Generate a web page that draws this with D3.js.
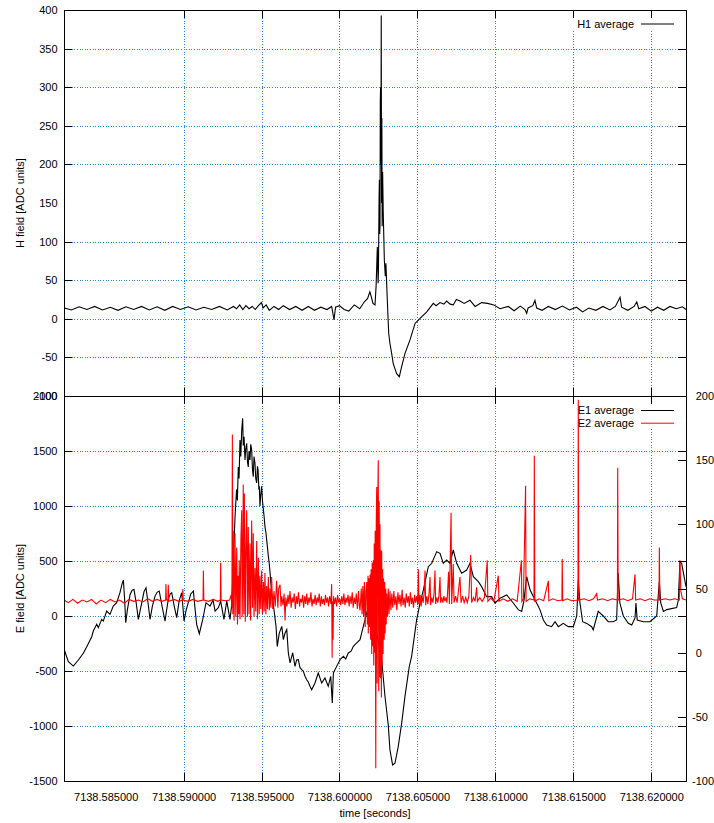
<!DOCTYPE html>
<html>
<head>
<meta charset="utf-8">
<script src="https://cdn.jsdelivr.net/npm/d3@7"></script>
<style>
  body { margin: 0; background: #fff; }
  svg text { font-family: "Liberation Sans", Arial, sans-serif; font-size: 11px; fill: #000; }
</style>
</head>
<body>
<div id="chart"></div>
<script>
// Size of the page and the two stacked panels
const width = 714;
const height = 823;
const plotLeft = 64, plotRight = 686;
const topPanel = {top: 10, bottom: 396};
const botPanel = {top: 396, bottom: 781};

// time axis: samples are stored as milliseconds after T0 (seconds)
const T0 = 7138.58;
const timeDomain = [7138.58233, 7138.62223];
const timeTicks = [7138.585, 7138.590, 7138.595, 7138.600, 7138.605, 7138.610, 7138.615, 7138.620];

// tick labels of the y axes
const hTicks = [400, 350, 300, 250, 200, 150, 100, 50, 0, -50, -100];
const eTicks = [2000, 1500, 1000, 500, 0, -500, -1000, -1500];
const e2Ticks = [200, 150, 100, 50, 0, -50, -100];

// legend entries
const topSeriesNames = ["H1 average"];
const botSeriesNames = ["E1 average", "E2 average"];

// H1 average [ms, ADC units]
const h1Data = [[2.35,14],[2.8,11.5],[3.3,15.5],[3.8,12],[4.3,16],[4.8,11.5],[5.3,15],[5.8,11],[6.3,15.5],[6.8,12],
  [7.3,16],[7.8,11.5],[8.3,15.5],[8.8,11],[9.3,16],[9.8,12],[10.3,15.5],[10.8,11.5],[11.3,15],[11.8,12],
  [12.3,16],[12.8,11.5],[13.2,16],[13.4,13],[13.6,18],[13.8,12],[14.0,17],[14.2,13],[14.4,16],[14.6,12],
  [14.8,17],[15.0,21],[15.1,14],[15.3,18],[15.5,11],[15.8,16],[16.1,12],[16.4,17],[16.8,12],[17.2,16],
  [17.6,11],[18.0,16],[18.4,11],[18.8,15],[19.2,12],[19.5,16],[19.65,-1],[19.75,15],[20.0,17],[20.3,12],
  [20.6,10],[20.95,18],[21.3,13],[21.6,22],[21.8,26],[21.95,35],[22.05,28],[22.15,20],[22.28,18],[22.35,42],
  [22.43,93],[22.48,46],[22.5,60],[22.54,154],[22.56,180],[22.58,110],[22.6,120],[22.62,283],[22.64,300],[22.66,200],
  [22.68,393],[22.7,150],[22.71,249],[22.72,260],[22.74,120],[22.75,171],[22.77,190],[22.81,137],[22.88,76],[22.94,55],
  [22.98,72],[23.07,24],[23.16,-19],[23.24,-32],[23.35,-45],[23.45,-58],[23.67,-71],[23.84,-75],[23.99,-62],[24.2,-45],
  [24.53,-27],[24.85,-6],[25.17,0.5],[25.6,9],[26.02,20],[26.2,17],[26.45,21],[26.7,19],[26.88,23],[27.1,19],
  [27.3,18],[27.5,25],[27.73,23],[28.0,20],[28.37,24],[28.7,16],[29.12,21],[29.5,20],[29.9,18],[30.3,13],
  [30.83,16],[31.2,10.5],[31.6,16.5],[31.9,12],[32.01,7],[32.1,14],[32.4,17],[32.54,24],[32.65,14],[33.0,11],
  [33.4,16],[33.85,12],[34.3,16.5],[34.75,11.5],[35.2,15],[35.6,9],[36.0,14],[36.45,11],[36.9,16],[37.35,11.5],
  [37.7,16],[38.0,28],[38.1,15],[38.5,11],[38.9,16],[39.07,22],[39.2,13],[39.6,16],[40.0,10],[40.4,15],
  [40.8,11],[41.2,16],[41.6,13],[42.0,15.5],[42.23,12]];

// E1 average [ms, ADC units] (left axis)
const e1Data = [[2.33,-300],[2.61,-415],[2.93,-455],[3.25,-400],[3.57,-339],[3.79,-279],[4.11,-188],[4.21,-137],[4.43,-76],[4.53,-106],
  [4.75,-31],[4.85,-46],[5.07,45],[5.28,15],[5.49,90],[5.71,121],[5.92,212],[6.05,290],[6.14,326],[6.22,150],
  [6.29,-61],[6.40,60],[6.57,196],[6.70,235],[6.82,242],[6.96,120],[7.10,-31],[7.20,40],[7.32,121],[7.46,220],
  [7.59,257],[7.72,120],[7.85,-31],[8.00,90],[8.17,181],[8.30,215],[8.44,226],[8.62,90],[8.81,-46],[8.92,60],
  [9.02,151],[9.14,200],[9.24,212],[9.40,90],[9.56,-15],[9.72,140],[9.88,212],[9.96,80],[10.03,-46],[10.16,50],
  [10.30,121],[10.46,200],[10.63,226],[10.74,60],[10.84,-76],[11.01,-161],[11.23,-31],[11.44,121],[11.70,90],[11.89,145],
  [12.02,45],[12.23,76],[12.38,136],[12.59,-31],[12.77,136],[12.98,-31],[13.09,106],[13.30,900],[13.40,1150],[13.45,1050],
  [13.51,1355],[13.56,1250],[13.62,1600],[13.67,1450],[13.73,1690],[13.79,1797],[13.83,1550],[13.88,1630],[13.94,1418],[13.99,1520],
  [14.05,1570],[14.10,1400],[14.15,1355],[14.20,1500],[14.26,1418],[14.31,1560],[14.37,1510],[14.42,1330],[14.47,1267],[14.52,1450],
  [14.58,1388],[14.63,1250],[14.69,1209],[14.74,1360],[14.78,1330],[14.83,1150],[14.86,1179],[14.90,997],[14.95,1100],[15.01,1179],
  [15.06,1050],[15.12,967],[15.17,900],[15.22,815],[15.28,760],[15.33,694],[15.44,542],[15.50,470],[15.55,391],[15.65,209],
  [15.80,58],[15.93,-94],[16.01,-276],[16.14,-155],[16.30,-94],[16.40,-215],[16.51,-155],[16.62,-124],[16.72,-336],[16.83,-427],
  [17.00,-336],[17.15,-458],[17.25,-400],[17.36,-397],[17.47,-470],[17.58,-488],[17.68,-500],[17.79,-548],[17.90,-580],[18.00,-600],
  [18.11,-639],[18.22,-670],[18.43,-609],[18.64,-518],[18.86,-609],[19.07,-564],[19.28,-639],[19.44,-548],[19.54,-791],[19.61,-518],
  [19.82,-458],[20.04,-397],[20.25,-367],[20.40,-390],[20.57,-336],[20.75,-320],[20.89,-276],[21.11,-245],[21.32,-215],[21.53,-94],
  [21.75,27],[21.85,88],[21.96,0],[22.17,20],[22.39,-155],[22.71,-400],[22.92,-730],[23.13,-990],[23.24,-1218],[23.41,-1355],
  [23.56,-1339],[23.77,-1188],[23.99,-976],[24.20,-733],[24.48,-458],[24.63,-367],[24.95,-36],[25.17,118],[25.38,236],[25.70,448],
  [25.92,479],[26.24,585],[26.45,570],[26.66,479],[26.88,509],[27.09,479],[27.30,600],[27.52,479],[27.84,388],[28.16,418],
  [28.37,479],[28.59,357],[28.91,312],[29.12,267],[29.44,176],[29.76,176],[29.98,118],[30.30,161],[30.73,191],[31.15,118],
  [31.47,58],[31.69,42],[31.84,145],[32.01,357],[32.23,236],[32.55,145],[32.86,58],[33.08,-36],[33.29,-82],[33.61,-97],
  [33.83,-52],[34.04,-97],[34.36,-67],[34.68,-97],[35.00,-97],[35.22,0],[35.32,327],[35.43,118],[35.60,-52],[35.86,-67],
  [36.18,-97],[36.28,-127],[36.60,42],[36.92,0],[37.24,-52],[37.56,-52],[37.78,-36],[37.88,391],[37.99,118],[38.21,0],
  [38.53,-67],[38.75,-82],[38.96,-18],[39.02,118],[39.10,-36],[39.49,-52],[39.92,-52],[40.35,0],[40.52,312],[40.61,118],
  [40.78,42],[41.00,58],[41.63,76],[41.74,145],[41.84,494],[41.95,479],[42.23,267]];

// E2 average [ms, ADC units] (right axis)
const e2Data = [[2.33,41],[2.6,39],[2.9,41.5],[3.2,38.5],[3.5,41],[3.8,39.5],[4.1,41.5],[4.4,38],[4.7,41],[5.0,39],
  [5.3,41.5],[5.6,39.5],[5.9,41],[6.2,38.5],[6.5,41.5],[6.8,40],[7.1,41],[7.4,39.5],[7.7,42],[8.0,40],
  [8.3,41.5],[8.6,40],[8.85,41],[8.87,53.5],[8.9,41],[9.0,41],[9.02,53],[9.05,40],[9.4,41.5],[9.7,40],
  [9.93,41],[9.95,49.5],[9.98,41],[10.3,40],[10.6,41.5],[10.9,40],[11.25,41],[11.27,64],[11.3,41],[11.6,40],
  [11.9,41.5],[12.2,40],[12.36,41],[12.38,70],[12.41,41],[12.7,40.5],[12.95,41],
  [13.05,45],[13.1,35],[13.13,170],[13.16,30],[13.19,95],[13.24,25],[13.3,93],[13.35,28],[13.41,82],[13.46,22],
  [13.5,60],[13.54,30],[13.57,72],[13.62,26],[13.68,90],[13.73,111],[13.76,28],[13.8,70],[13.83,131],[13.87,30],
  [13.9,124],[13.96,24],[14.0,80],[14.05,111],[14.1,28],[14.15,98],[14.2,30],[14.26,85],[14.3,25],[14.37,103],
  [14.42,35],[14.47,93],[14.52,28],[14.58,66],[14.63,32],[14.69,87],[14.74,26],[14.8,74],[14.85,30],[14.9,60],
  [14.95,34],[15.01,64],[15.06,30],[15.12,55],[15.17,32],[15.22,62],[15.28,30],[15.33,52],[15.38,34],[15.44,59],
  [15.5,33],[15.55,50],[15.6,35],[15.65,59],[15.72,34],[15.8,48],[15.88,36],[15.97,56],[16.05,35],[16.1,50],
  [16.19,53],[16.25,36],
  [16.30,44],[16.38,37],[16.45,46],[16.51,25],[16.56,43],[16.63,36],[16.70,45],[16.76,38],[16.83,48],[16.90,35],
  [16.96,43],[17.03,39],[17.10,46],[17.17,34],[17.24,44],[17.30,38],[17.37,47],[17.44,36],[17.50,42],[17.57,39],
  [17.64,45],[17.70,35],[17.77,44],[17.84,38],[17.90,46],[17.97,37],[18.04,43],[18.10,39],[18.17,47],[18.24,36],
  [18.30,42],[18.37,38],[18.44,45],[18.50,37],[18.57,43],[18.64,39],[18.70,46],[18.77,36],[18.84,44],[18.90,38],
  [18.97,42],[19.04,37],[19.10,45],[19.17,39],[19.24,43],[19.30,36],[19.37,44],[19.45,38],[19.50,53.5],[19.53,-4],
  [19.56,40],[19.59,10],[19.62,44],[19.68,38],[19.75,43],[19.82,36],[19.88,45],[19.95,39],[20.02,42],[20.08,37],
  [20.15,44],[20.22,38],[20.28,46],[20.35,37],[20.42,43],[20.48,39],[20.55,45],[20.62,36],[20.68,44],[20.75,38],
  [20.82,47],[20.88,35],[20.95,43],[21.02,38],[21.08,46],[21.15,34],[21.22,48],[21.28,36],[21.32,33],[21.40,50],
  [21.45,30],[21.50,52],[21.55,28],[21.60,55],[21.65,20],[21.70,48],
  [21.75,55],[21.79,22],[21.83,60],[21.85,15],[21.9,58],[21.93,20],[21.96,61],[22.0,10],[22.03,65],[22.07,-1],
  [22.1,70],[22.13,5],[22.17,72],[22.2,-10],[22.23,85],[22.26,0],[22.29,95],[22.33,-90],[22.36,100],[22.39,129],
  [22.42,-24],[22.45,110],[22.49,150],[22.52,-30],[22.55,118],[22.58,-19],[22.6,100],[22.63,-20],[22.66,80],[22.69,-35],
  [22.71,79],[22.74,-10],[22.77,65],[22.8,-1],[22.83,58],[22.87,10],[22.9,55],[22.93,15],[22.97,50],[23.0,22],
  [23.03,46],[23.08,28],[23.13,50],[23.18,30],[23.24,48],[23.3,33],
  [23.36,46],[23.42,35],[23.49,48],[23.55,37],[23.62,44],[23.68,33],[23.75,47],[23.82,38],[23.88,45],[23.95,36],
  [24.02,49],[24.08,37],[24.15,43],[24.22,35],[24.28,46],[24.35,39],[24.42,44],[24.48,36],[24.55,47],[24.62,38],
  [24.68,43],[24.75,35],[24.82,45],[24.88,39],[24.95,44],[25.02,37],[25.06,65],[25.10,38],[25.17,45],[25.24,36],
  [25.30,44],[25.37,39],[25.43,46],[25.49,64],[25.53,37],[25.60,44],[25.67,38],[25.74,45],[25.81,59],[25.85,37],
  [25.92,43],[25.99,39],[26.06,45],[26.13,64],[26.17,38],[26.24,43],[26.31,39],[26.38,44],[26.45,59],[26.49,39],
  [26.56,43],[26.63,39],[26.70,44],[26.77,40],[26.84,43],[26.90,39],
  [27.0,63],[27.05,38],[27.16,109],[27.2,38],[27.3,69],[27.35,39],[27.45,44],[27.55,39],[27.73,59],
  [27.8,39],[27.9,44],[28.0,39],[28.1,43],[28.2,39],[28.3,44],[28.42,76],[28.48,39],[28.6,43],[28.7,40],
  [28.8,51],[28.85,40],[29.0,43],[29.15,40],[29.3,43],[29.48,72],[29.52,40],[29.7,42.5],[29.9,40],[30.19,60],
  [30.23,40],[30.5,42],[30.8,40],[31.1,42],[31.4,40],[31.67,72],[31.7,40],[31.8,42],[31.94,130],[31.97,40],
  [32.2,42],[32.48,41],[32.5,153.5],[32.53,40],[32.8,42],[33.1,40.5],[33.4,56],[33.43,40.5],[33.7,42],[34.0,40.5],
  [34.27,41],[34.29,73],[34.32,40.5],[34.6,42],[34.9,40.5],[35.3,41],[35.32,197],[35.35,41],[35.7,42],[36.0,40.5],
  [36.3,42],[36.5,46],[36.55,41],[36.9,42],[37.2,40.5],[37.5,42],[37.83,41],[37.85,144],[37.88,41],[38.2,42],
  [38.5,40.5],[38.8,42],[38.96,61],[39.0,41],[39.3,42],[39.6,40.5],[39.9,42],[40.2,41],[40.5,41],[40.52,82],
  [40.55,41],[40.9,42],[41.2,41],[41.5,42],[41.8,41],[41.84,72],[41.9,48],[42.0,42],[42.23,41]];

/* scales */
const x = d3.scaleLinear().domain(timeDomain).range([plotLeft, plotRight]);
const yH = d3.scaleLinear().domain([-100, 400]).range([topPanel.bottom, topPanel.top]);
const yE = d3.scaleLinear().domain([-1500, 2000]).range([botPanel.bottom, botPanel.top]);
const yE2 = d3.scaleLinear().domain([-100, 200]).range([botPanel.bottom, botPanel.top]);

const svg = d3.select("#chart").append("svg")
  .attr("width", width)
  .attr("height", height);

svg.append("rect").attr("width", width).attr("height", height).attr("fill", "#fff");

const defs = svg.append("defs");
defs.append("clipPath").attr("id", "clipTop").append("rect")
  .attr("x", plotLeft).attr("y", topPanel.top)
  .attr("width", plotRight - plotLeft).attr("height", topPanel.bottom - topPanel.top);
defs.append("clipPath").attr("id", "clipBot").append("rect")
  .attr("x", plotLeft).attr("y", botPanel.top)
  .attr("width", plotRight - plotLeft).attr("height", botPanel.bottom - botPanel.top);

const plotW = plotRight - plotLeft;
const gridTime = timeTicks.filter(t => t > 7138.586);
const plain = d => String(d);   // gnuplot style numbers: no thousands separator, ascii minus

/* grid (blue dotted) */
function styleGrid(g) {
  g.select(".domain").remove();
  g.selectAll("text").remove();
  g.selectAll("line")
    .attr("stroke", "#2d83ea")
    .attr("stroke-width", 1)
    .attr("stroke-dasharray", "1,1.6")
    .attr("shape-rendering", "crispEdges");
}

svg.append("g")
  .attr("transform", `translate(${plotLeft},0)`)
  .call(d3.axisLeft(yH).tickValues(hTicks.filter(v => v < 400 && v > -100 && v !== 150)).tickSize(-plotW))
  .call(styleGrid);
svg.append("g")
  .attr("transform", `translate(0,${topPanel.bottom})`)
  .call(d3.axisBottom(x).tickValues(gridTime).tickSize(-(topPanel.bottom - topPanel.top)))
  .call(styleGrid);
svg.append("g")
  .attr("transform", `translate(${plotLeft},0)`)
  .call(d3.axisLeft(yE).tickValues(eTicks.filter(v => v < 2000 && v > -1500)).tickSize(-plotW))
  .call(styleGrid);
svg.append("g")
  .attr("transform", `translate(0,${botPanel.bottom})`)
  .call(d3.axisBottom(x).tickValues(gridTime).tickSize(-(botPanel.bottom - botPanel.top)))
  .call(styleGrid);

// key areas are kept clear of the grid
svg.append("rect").attr("x", 572).attr("y", 11).attr("width", 112).attr("height", 19).attr("fill", "#fff");
svg.append("rect").attr("x", 572).attr("y", 397).attr("width", 112).attr("height", 32).attr("fill", "#fff");

/* data lines */
const toTime = ms => T0 + ms / 1000;

svg.append("path")
  .datum(h1Data)
  .attr("clip-path", "url(#clipTop)")
  .attr("fill", "none")
  .attr("stroke", "#000")
  .attr("stroke-width", 1.1)
  .attr("d", d3.line().x(d => x(toTime(d[0]))).y(d => yH(d[1])));

svg.append("path")
  .datum(e1Data)
  .attr("clip-path", "url(#clipBot)")
  .attr("fill", "none")
  .attr("stroke", "#000")
  .attr("stroke-width", 1.1)
  .attr("d", d3.line().x(d => x(toTime(d[0]))).y(d => yE(d[1])));

svg.append("path")
  .datum(e2Data)
  .attr("clip-path", "url(#clipBot)")
  .attr("fill", "none")
  .attr("stroke", "#ff0000")
  .attr("stroke-width", 1.1)
  .attr("d", d3.line().x(d => x(toTime(d[0]))).y(d => yE2(d[1])));

/* frames */
svg.append("rect")
  .attr("x", plotLeft).attr("y", topPanel.top)
  .attr("width", plotW).attr("height", topPanel.bottom - topPanel.top)
  .attr("fill", "none").attr("stroke", "#000").attr("shape-rendering", "crispEdges");
svg.append("rect")
  .attr("x", plotLeft).attr("y", botPanel.top)
  .attr("width", plotW).attr("height", botPanel.bottom - botPanel.top)
  .attr("fill", "none").attr("stroke", "#000").attr("shape-rendering", "crispEdges");

/* axes with inward ticks */
function styleAxis(g) {
  g.select(".domain").remove();
  g.selectAll("line").attr("stroke", "#000").attr("shape-rendering", "crispEdges");
  g.selectAll("text").attr("font-size", "11px").attr("font-family", '"Liberation Sans", Arial, sans-serif');
}
const noLabel = () => "";

// top panel left axis
const hAxis = svg.append("g")
  .attr("transform", `translate(${plotLeft},0)`)
  .call(d3.axisLeft(yH).tickValues(hTicks).tickSize(-8).tickPadding(6.5).tickFormat(plain))
  .call(styleAxis);
hAxis.selectAll(".tick").filter(d => d === 150).select("line").remove();

// top panel right mirror ticks
svg.append("g")
  .attr("transform", `translate(${plotRight},0)`)
  .call(d3.axisRight(yH).tickValues(hTicks.filter(v => v !== 150)).tickSize(-8).tickFormat(noLabel))
  .call(styleAxis);

// x ticks on top and middle borders
svg.append("g")
  .attr("transform", `translate(0,${topPanel.top})`)
  .call(d3.axisTop(x).tickValues(gridTime).tickSize(-8).tickFormat(noLabel))
  .call(styleAxis);
svg.append("g")
  .attr("transform", `translate(0,${topPanel.bottom})`)
  .call(d3.axisBottom(x).tickValues(gridTime).tickSize(-8).tickFormat(noLabel))
  .call(styleAxis);
svg.append("g")
  .attr("transform", `translate(0,${botPanel.top})`)
  .call(d3.axisTop(x).tickValues(gridTime).tickSize(-8).tickFormat(noLabel))
  .call(styleAxis);

// bottom panel left axis
svg.append("g")
  .attr("transform", `translate(${plotLeft},0)`)
  .call(d3.axisLeft(yE).tickValues(eTicks).tickSize(-8).tickPadding(6.5).tickFormat(plain))
  .call(styleAxis);

// bottom panel right: mirror of left ticks plus the red E2 axis
svg.append("g")
  .attr("transform", `translate(${plotRight},0)`)
  .call(d3.axisRight(yE).tickValues(eTicks).tickSize(-8).tickFormat(noLabel))
  .call(styleAxis);
const e2Axis = svg.append("g")
  .attr("transform", `translate(${plotRight},0)`)
  .call(d3.axisRight(yE2).tickValues(e2Ticks).tickSize(-8).tickPadding(6).tickFormat(plain))
  .call(styleAxis);
e2Axis.selectAll("text")
  .attr("fill", "#ff0000")
  .attr("dx", d => d < 0 ? 0 : 3.7);

// time axis
const tAxis = svg.append("g")
  .attr("transform", `translate(0,${botPanel.bottom})`)
  .call(d3.axisBottom(x).tickValues(timeTicks).tickSize(-8).tickPadding(12.5).tickFormat(d3.format(".6f")))
  .call(styleAxis);
tAxis.selectAll(".tick").filter(d => d < 7138.586).select("line").remove();

/* axis titles */
svg.append("text")
  .attr("transform", `translate(20,${(topPanel.top + topPanel.bottom) / 2}) rotate(-90)`)
  .attr("text-anchor", "middle")
  .attr("dy", "0.35em")
  .text("H field [ADC units]");
svg.append("text")
  .attr("transform", `translate(20,${(botPanel.top + botPanel.bottom) / 2}) rotate(-90)`)
  .attr("text-anchor", "middle")
  .attr("dy", "0.35em")
  .text("E field [ADC units]");
svg.append("text")
  .attr("x", (plotLeft + plotRight) / 2)
  .attr("y", 813)
  .attr("text-anchor", "middle")
  .attr("dy", "0.35em")
  .text("time [seconds]");

/* legends */
const topKey = svg.append("g");
topSeriesNames.forEach((name, i) => {
  const yy = 24 + i * 12.7;
  topKey.append("text").attr("x", 634).attr("y", yy).attr("dy", "0.35em")
    .attr("text-anchor", "end").text(name);
  topKey.append("line").attr("x1", 641).attr("x2", 674).attr("y1", yy).attr("y2", yy)
    .attr("stroke", "#000");
});
const botColors = ["#000", "#ff0000"];
const botKey = svg.append("g");
botSeriesNames.forEach((name, i) => {
  const yy = 410.5 + i * 12.7;
  botKey.append("text").attr("x", 634).attr("y", yy).attr("dy", "0.35em")
    .attr("text-anchor", "end").text(name);
  botKey.append("line").attr("x1", 641).attr("x2", 674).attr("y1", yy).attr("y2", yy)
    .attr("stroke", botColors[i]);
});
</script>
</body>
</html>
